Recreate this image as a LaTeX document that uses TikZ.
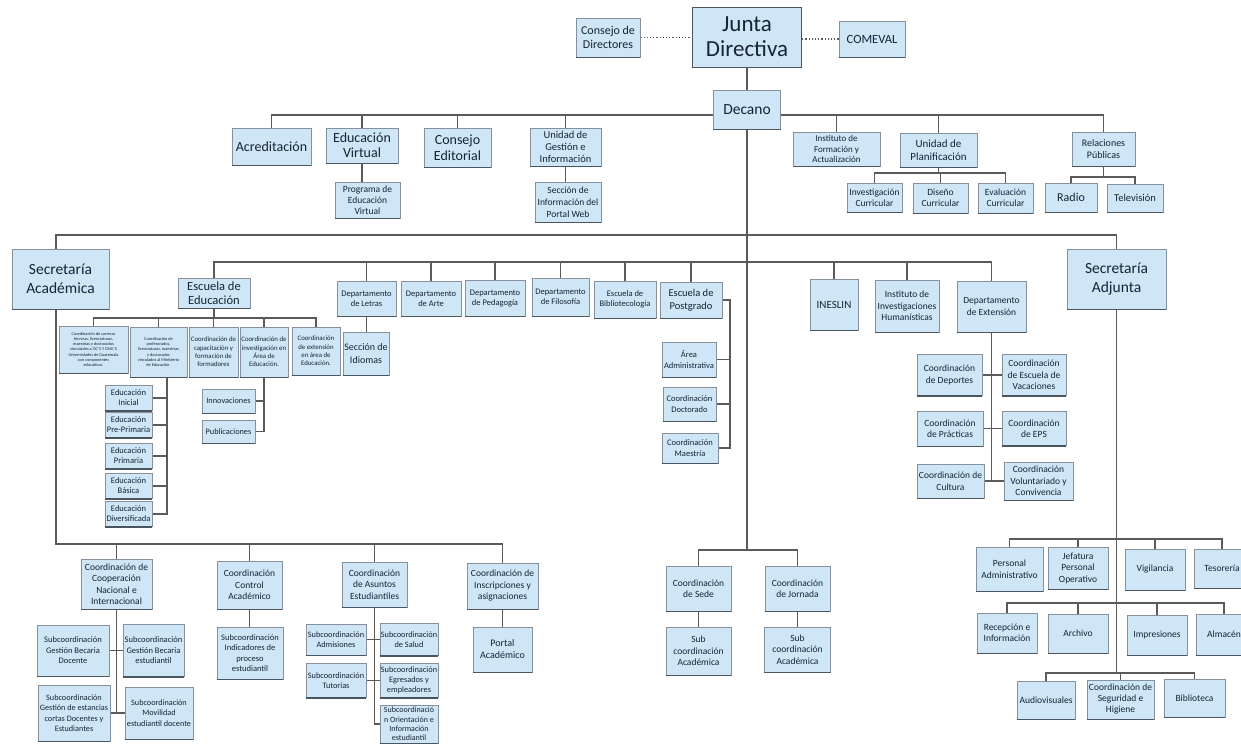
\documentclass[tikz,border=0pt]{standalone}
\usepackage{fontspec}
\setmainfont{Carlito}
\usetikzlibrary{backgrounds}
\definecolor{boxfill}{RGB}{206,230,246}
\definecolor{boxline}{RGB}{135,145,155}
\definecolor{boxedgec}{RGB}{75,85,95}
\definecolor{linegray}{RGB}{90,90,90}
\definecolor{txt}{RGB}{22,36,54}
\newcommand\myfs[2]{\fontsize{#1}{#2}\selectfont}
\tikzset{
  bottomedge/.style={draw=boxedgec, line width=1.6pt},
  orgbox/.style={draw=boxline, fill=boxfill, line width=0.7pt, align=center,
    inner sep=1pt, text=txt,
    append after command={(\tikzlastnode.south west) edge[bottomedge] (\tikzlastnode.south east)}},
  wh/.style 2 args={minimum width=#1pt, minimum height=#2pt},
  conn/.style={draw=linegray, line width=1.6pt},
  dotline/.style={draw=linegray, line width=1.2pt, dotted},
}
\begin{document}
\begin{tikzpicture}[x=1pt,y=-1pt]
\useasboundingbox (0,0) rectangle (1241,744);
% ---- top
\node[orgbox,wh={109}{60},font=\myfs{23}{25},draw=boxedgec] (jd) at (747,37) {Junta\\Directiva};
\node[orgbox,wh={64}{39},font=\myfs{12}{14}] (cd) at (608,37.5) {Consejo de\\Directores};
\node[orgbox,wh={66}{36},font=\myfs{12.5}{14}] (com) at (872,39) {COMEVAL};
\node[orgbox,wh={67}{39},font=\myfs{15.5}{18}] (dec) at (747,109.5) {Decano};
% ---- row 2
\node[orgbox,wh={79}{37},font=\myfs{14}{16}] (acr) at (271.5,146.5) {Acreditación};
\node[orgbox,wh={72}{35},font=\myfs{14}{15}] (ev) at (362,145.5) {Educación\\Virtual};
\node[orgbox,wh={65}{36},font=\myfs{9.5}{11}] (pev) at (367.5,200) {Programa de\\Educación\\Virtual};
\node[orgbox,wh={67}{39},font=\myfs{14}{16}] (ce) at (457.5,147.5) {Consejo\\Editorial};
\node[orgbox,wh={71}{38},font=\myfs{10.5}{12}] (ugi) at (565.5,147) {Unidad de\\Gestión e\\Información};
\node[orgbox,wh={66}{40},font=\myfs{9.5}{12}] (sipw) at (568,202) {Sección de\\Información del\\Portal Web};
\node[orgbox,wh={87}{34},font=\myfs{9}{10.5}] (ifa) at (836.5,149) {Instituto de\\Formación y\\Actualización};
\node[orgbox,wh={77}{34},font=\myfs{11}{13}] (up) at (938.5,150) {Unidad de\\Planificación};
\node[orgbox,wh={55}{29},font=\myfs{9.5}{11}] (ic) at (874.5,197.5) {Investigación\\Curricular};
\node[orgbox,wh={55}{30},font=\myfs{9.5}{11}] (dc) at (940.5,198) {Diseño\\Curricular};
\node[orgbox,wh={55}{30},font=\myfs{9.5}{11}] (ecu) at (1005.5,198) {Evaluación\\Curricular};
\node[orgbox,wh={63}{34},font=\myfs{10}{12}] (rp) at (1103.5,149) {Relaciones\\Públicas};
\node[orgbox,wh={52}{29},font=\myfs{12}{14}] (rad) at (1071,197.5) {Radio};
\node[orgbox,wh={56}{28},font=\myfs{10.5}{12}] (tv) at (1135,198) {Televisión};
% ---- row 3
\node[orgbox,wh={97}{60},font=\myfs{15.5}{19}] (sa) at (60.5,279) {Secretaría\\Académica};
\node[orgbox,wh={99}{60},font=\myfs{15.5}{19}] (sadj) at (1116.5,279) {Secretaría\\Adjunta};
\node[orgbox,wh={72}{30},font=\myfs{12.5}{14}] (ee) at (214,293) {Escuela de\\Educación};
\node[orgbox,wh={59}{35},font=\myfs{8.5}{10}] (dl) at (366.5,298.5) {Departamento\\de Letras};
\node[orgbox,wh={60}{35},font=\myfs{8.5}{10}] (da) at (431,298.5) {Departamento\\de Arte};
\node[orgbox,wh={60}{36},font=\myfs{8.5}{10}] (dp) at (495,298) {Departamento\\de Pedagogía};
\node[orgbox,wh={57}{38},font=\myfs{8.5}{10}] (df) at (560.5,297) {Departamento\\de Filosofía};
\node[orgbox,wh={62}{37},font=\myfs{8.5}{10}] (eb) at (625,299.5) {Escuela de\\Bibliotecología};
\node[orgbox,wh={62}{36},font=\myfs{10.5}{13}] (epg) at (691,300) {Escuela de\\Postgrado};
\node[orgbox,wh={46}{43},font=\myfs{10}{12.5}] (sid) at (366,353.5) {Sección de\\Idiomas};
\node[orgbox,wh={54}{35},font=\myfs{8.5}{10.5}] (aa) at (689,359.5) {Área\\Administrativa};
\node[orgbox,wh={53}{34},font=\myfs{8.5}{10.5}] (cdoc) at (689.5,404) {Coordinación\\Doctorado};
\node[orgbox,wh={56}{30},font=\myfs{8.5}{10.5}] (cmae) at (690,448) {Coordinación\\Maestría};
\node[orgbox,wh={48}{51},font=\myfs{11}{13}] (ines) at (834,304.5) {INESLIN};
\node[orgbox,wh={64}{52},font=\myfs{9.5}{11.5}] (iih) at (907,306) {Instituto de\\Investigaciones\\Humanísticas};
\node[orgbox,wh={69}{51},font=\myfs{9.5}{11.5}] (dext) at (991.5,306.5) {Departamento\\de Extensión};
\node[orgbox,wh={65}{41},font=\myfs{9.5}{11.5}] (cdep) at (949.5,375) {Coordinación\\de Deportes};
\node[orgbox,wh={64}{41},font=\myfs{9.5}{11.5}] (cev) at (1034,375) {Coordinación\\de Escuela de\\Vacaciones};
\node[orgbox,wh={66}{35},font=\myfs{9.5}{11.5}] (cpra) at (950,428.5) {Coordinación\\de Prácticas};
\node[orgbox,wh={64}{34},font=\myfs{9.5}{11.5}] (ceps) at (1034,428.5) {Coordinación\\de EPS};
\node[orgbox,wh={67}{34},font=\myfs{9.5}{11.5}] (ccul) at (950.5,481) {Coordinación de\\Cultura};
\node[orgbox,wh={69}{38},font=\myfs{9.5}{11.5}] (cvol) at (1038.5,481) {Coordinación\\Voluntariado y\\Convivencia};
% ---- Escuela de Educacion children
\node[orgbox,wh={69}{47},font=\myfs{4.3}{5.2}] (ce1) at (93.5,349.5) {Coordinación de carreras\\técnicas, licenciaturas,\\maestrías y doctorados\\vinculados a OC´S Y ONG´S\\Universidades de Guatemala\\con componentes\\educativos.};
\node[orgbox,wh={57}{50},font=\myfs{4.3}{5.2}] (ce2) at (158.5,352) {Coordinación de\\profesorados,\\licenciaturas, maestrías\\y doctorados\\vinculados al Ministerio\\de Educación.};
\node[orgbox,wh={49}{50},font=\myfs{6.8}{8.3}] (ce3) at (213.5,352) {Coordinación de\\capacitación y\\formación de\\formadores};
\node[orgbox,wh={48}{50},font=\myfs{6.8}{8.3}] (ce4) at (264,352) {Coordinación de\\investigación en\\Área de\\Educación.};
\node[orgbox,wh={48}{48},font=\myfs{6.8}{8.3}] (ce5) at (316,351) {Coordinación\\de extensión\\en área de\\Educación.};
\node[orgbox,wh={47}{25},font=\myfs{8.5}{10}] (ein) at (128.5,398) {Educación\\Inicial};
\node[orgbox,wh={47}{25},font=\myfs{8.5}{10}] (epp) at (128.5,425) {Educación\\Pre-Primaria};
\node[orgbox,wh={47}{25},font=\myfs{8.5}{10}] (epr) at (128.5,456) {Educación\\Primaria};
\node[orgbox,wh={47}{25},font=\myfs{8.5}{10}] (eba) at (128.5,486) {Educación\\Básica};
\node[orgbox,wh={47}{25},font=\myfs{8.5}{10}] (edi) at (128.5,514) {Educación\\Diversificada};
\node[orgbox,wh={53}{24},font=\myfs{8.3}{10}] (inn) at (228.5,401) {Innovaciones};
\node[orgbox,wh={53}{23},font=\myfs{8.3}{10}] (pub) at (228.5,431.5) {Publicaciones};
% ---- bottom left
\node[orgbox,wh={71}{50},font=\myfs{9.5}{11.5}] (ccni) at (116.5,584) {Coordinación de\\Cooperación\\Nacional e\\Internacional};
\node[orgbox,wh={72}{51},font=\myfs{8.5}{10.5}] (sgbd) at (73,650.5) {Subcoordinación\\Gestión Becaria\\Docente};
\node[orgbox,wh={61}{52},font=\myfs{8.5}{10.5}] (sgbe) at (153.5,650.5) {Subcoordinación\\Gestión Becaria\\estudiantil};
\node[orgbox,wh={72}{56},font=\myfs{8.2}{10.5}] (sgec) at (74,713) {Subcoordinación\\Gestión de estancias\\cortas Docentes y\\Estudiantes};
\node[orgbox,wh={68}{52},font=\myfs{8.2}{10.5}] (smov) at (159,713) {Subcoordinación\\Movilidad\\estudiantil docente};
\node[orgbox,wh={65}{48},font=\myfs{9.5}{11.5}] (cca) at (249.5,585) {Coordinación\\Control\\Académico};
\node[orgbox,wh={66}{52},font=\myfs{8.5}{10.5}] (sind) at (250,653) {Subcoordinación\\Indicadores de\\proceso\\estudiantil};
\node[orgbox,wh={65}{45},font=\myfs{9.5}{11.5}] (cae) at (374.5,584.5) {Coordinación\\de Asuntos\\Estudiantiles};
\node[orgbox,wh={60}{31},font=\myfs{8.3}{10}] (sadm) at (336,639.5) {Subcoordinación\\Admisiones};
\node[orgbox,wh={58}{32},font=\myfs{8.3}{10}] (ssal) at (409,639.5) {Subcoordinación\\de Salud};
\node[orgbox,wh={60}{34},font=\myfs{8.3}{10}] (stut) at (336,680.5) {Subcoordinación\\Tutorías};
\node[orgbox,wh={58}{34},font=\myfs{8.3}{10}] (segr) at (409,680.5) {Subcoordinación\\Egresados y\\empleadores};
\node[orgbox,wh={58}{38},font=\myfs{8}{9.3}] (sori) at (409,724) {Subcoordinació\\n Orientación e\\Información\\estudiantil};
\node[orgbox,wh={71}{46},font=\myfs{9.5}{11.5}] (cia) at (502.5,586) {Coordinación de\\Inscripciones y\\asignaciones};
\node[orgbox,wh={59}{45},font=\myfs{10}{12}] (pa) at (502.5,649.5) {Portal\\Académico};
% ---- bottom center
\node[orgbox,wh={65}{45},font=\myfs{9.5}{11.5}] (csede) at (698.5,588.5) {Coordinación\\de Sede};
\node[orgbox,wh={65}{45},font=\myfs{9.5}{11.5}] (cjor) at (797.5,588.5) {Coordinación\\de Jornada};
\node[orgbox,wh={65}{48},font=\myfs{9.5}{11.5}] (scs) at (698.5,651) {Sub\\coordinación\\Académica};
\node[orgbox,wh={66}{45},font=\myfs{9.5}{11.5}] (scj) at (797.5,649.5) {Sub\\coordinación\\Académica};
% ---- bottom right
\node[orgbox,wh={67}{44},font=\myfs{9.5}{11.5}] (padm) at (1009.5,569) {Personal\\Administrativo};
\node[orgbox,wh={60}{42},font=\myfs{9.5}{11.5}] (jpo) at (1078,568) {Jefatura\\Personal\\Operativo};
\node[orgbox,wh={60}{41},font=\myfs{9.5}{11.5}] (vig) at (1155,569.5) {Vigilancia};
\node[orgbox,wh={56}{39},font=\myfs{9.5}{11.5}] (tes) at (1222,568.5) {Tesorería};
\node[orgbox,wh={60}{40},font=\myfs{9.5}{11.5}] (rei) at (1007,633) {Recepción e\\Información};
\node[orgbox,wh={60}{39},font=\myfs{9.5}{11.5}] (arc) at (1078,633.5) {Archivo};
\node[orgbox,wh={60}{40},font=\myfs{9.5}{11.5}] (imp) at (1157,635) {Impresiones};
\node[orgbox,wh={56}{41},font=\myfs{9.5}{11.5}] (alm) at (1224,634.5) {Almacén};
\node[orgbox,wh={58}{38},font=\myfs{9.5}{11.5}] (aud) at (1046,700) {Audiovisuales};
\node[orgbox,wh={67}{39},font=\myfs{9.5}{11}] (csh) at (1120.5,699.5) {Coordinación de\\Seguridad e\\Higiene};
\node[orgbox,wh={61}{38},font=\myfs{9.5}{11.5}] (bib) at (1194.5,698) {Biblioteca};
% ---- connectors
\begin{scope}[on background layer]
\fill[white] (0,0) rectangle (1241,744);
\draw[conn] (jd) -- (dec);
\draw[dotline] (cd.east) -- (cd.east -| jd.west);
\draw[dotline] (com.west) -- (com.west -| jd.east);
\coordinate (b1) at (747,115);
\draw[conn] (acr.north) |- (b1) -| (rp.north);
\foreach \n in {ev,ce,ugi,ifa,up} \draw[conn] (\n.north) -- (\n.north |- b1);
\draw[conn] (ev.south) -- (ev.south |- pev.north);
\draw[conn] (ugi.south) -- (ugi.south |- sipw.north);
\coordinate (b2) at (938.5,173);
\draw[conn] (up.south) -- (b2);
\draw[conn] (ic.north) |- (b2) -| (ecu.north);
\draw[conn] (dc.north) -- (dc.north |- b2);
\coordinate (b3) at (1103.5,177);
\draw[conn] (rp.south) -- (b3);
\draw[conn] (rad.north) |- (b3) -| (tv.north);
\coordinate (b6) at (747,550);
\draw[conn] (dec.south) -- (b6);
\draw[conn] (csede.north) |- (b6) -| (cjor.north);
\draw[conn] (csede.south) -- (csede.south |- scs.north);
\draw[conn] (cjor.south) -- (cjor.south |- scj.north);
\coordinate (sat) at (56,249);
\coordinate (sab) at (56,309);
\coordinate (b4) at (747,235);
\draw[conn] (sat) |- (b4) -| (sadj.north);
\coordinate (b5) at (747,262);
\draw[conn] (ee.north) |- (b5) -| (dext.north);
\foreach \n in {dl,da,dp,df,eb,epg,ines,iih} \draw[conn] (\n.north) -- (\n.north |- b5);
\draw[conn] (dl.south) -- (dl.south |- sid.north);
\coordinate (pgx) at (730,300);
\draw[conn] (epg.east) -- (pgx) |- (cmae.east);
\draw[conn] (aa.east) -- (aa.east -| pgx);
\draw[conn] (cdoc.east) -- (cdoc.east -| pgx);
\draw[conn] (dext.south) -- (dext.south |- ccul.east);
\draw[conn] (cdep.east) -- (cev.west);
\draw[conn] (cpra.east) -- (ceps.west);
\draw[conn] (ccul.east) -- (cvol.west);
\coordinate (b7) at (214,318);
\draw[conn] (ee.south) -- (b7);
\draw[conn] (ce1.north) |- (b7) -| (ce5.north);
\foreach \n in {ce2,ce3,ce4} \draw[conn] (\n.north) -- (\n.north |- b7);
\coordinate (e2x) at (167,377);
\draw[conn] (e2x) |- (edi.east);
\foreach \n in {ein,epp,epr,eba} \draw[conn] (\n.east) -- (\n.east -| e2x);
\draw[conn] (ce4.south) |- (pub.east);
\draw[conn] (inn.east) -- (inn.east -| ce4.south);
\coordinate (b8) at (56,544);
\draw[conn] (sab) -- (b8) -| (cia.north);
\foreach \n in {ccni,cca,cae} \draw[conn] (\n.north) -- (\n.north |- b8);
\draw[conn] (ccni.south) -- (ccni.south |- sgec.east);
\draw[conn] (sgbd.east) -- (sgbe.west);
\draw[conn] (sgec.east) -- (smov.west);
\draw[conn] (cca.south) -- (cca.south |- sind.north);
\draw[conn] (cae.south) |- (sori.west);
\draw[conn] (sadm.east) -- (ssal.west);
\draw[conn] (stut.east) -- (segr.west);
\draw[conn] (cia) -- (pa);
\coordinate (r1) at (1116.5,539);
\coordinate (r2) at (1116.5,603);
\coordinate (r3) at (1116.5,673);
\draw[conn] (sadj.south) -- (r3);
\draw[conn] (padm.north) |- (r1) -| (tes.north);
\foreach \n in {jpo,vig} \draw[conn] (\n.north) -- (\n.north |- r1);
\draw[conn] (rei.north) |- (r2) -| (alm.north);
\foreach \n in {arc,imp} \draw[conn] (\n.north) -- (\n.north |- r2);
\draw[conn] (aud.north) |- (r3) -| (bib.north);
\draw[conn] (csh.north) -- (csh.north |- r3);
\end{scope}
\end{tikzpicture}
\end{document}
